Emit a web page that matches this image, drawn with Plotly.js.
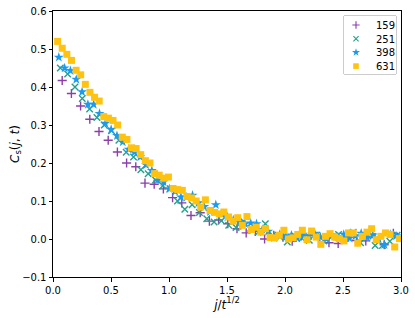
<!DOCTYPE html>
<html>
<head>
<meta charset="utf-8">
<script src="https://cdn.plot.ly/plotly-3.0.1.min.js"></script>
<style>html,body{margin:0;padding:0;background:#fff}#plot{width:415px;height:318px}</style>
</head>
<body>
<div id="plot"></div>
<script>
// Times t for each series (legend labels); x = j / sqrt(t), j = 1, 2, ...
const seriesNames = ["159", "251", "398", "631"];
const seriesTimes = [159, 251, 398, 631];

// C_s(j, t) values, j = 1, 2, 3, ...
const cs159 = [0.417, 0.383, 0.350, 0.315, 0.283, 0.260, 0.229, 0.200, 0.190, 0.147,
  0.144, 0.132, 0.109, 0.095, 0.062, 0.069, 0.047, 0.050, 0.040, 0.027,
  0.016, 0.020, 0.000, 0.010, 0.005, -0.006, 0.008, 0.010, 0.002, -0.010,
  -0.012, 0.005, -0.004, -0.005, 0.004, -0.015, 0.015];

const cs251 = [0.450, 0.434, 0.400, 0.370, 0.342, 0.320, 0.300, 0.285, 0.260, 0.228,
  0.216, 0.182, 0.172, 0.155, 0.140, 0.132, 0.100, 0.078, 0.090, 0.070,
  0.053, 0.045, 0.048, 0.036, 0.030, 0.047, 0.028, 0.018, 0.040, 0.010,
  0.005, -0.008, 0.008, 0.002, -0.003, 0.010, -0.005, 0.005, 0.012, 0.002,
  0.018, -0.010, 0.008, -0.017, -0.017, -0.006, 0.010];

const cs398 = [0.478, 0.450, 0.443, 0.420, 0.387, 0.354, 0.354, 0.330, 0.304, 0.288,
  0.272, 0.255, 0.236, 0.228, 0.216, 0.195, 0.180, 0.155, 0.150, 0.132,
  0.125, 0.110, 0.110, 0.115, 0.095, 0.085, 0.072, 0.090, 0.065, 0.058,
  0.050, 0.045, 0.040, 0.042, 0.040, 0.025, 0.020, 0.003, 0.012, 0.008,
  0.010, 0.002, 0.012, 0.008, 0.015, 0.005, 0.000, 0.010, 0.006, 0.012,
  0.002, 0.008, 0.015, 0.004, 0.010, 0.000, -0.015, 0.012, 0.008];

const cs631 = [0.520, 0.502, 0.486, 0.470, 0.444, 0.432, 0.407, 0.386, 0.373, 0.363,
  0.322, 0.318, 0.312, 0.300, 0.268, 0.262, 0.240, 0.238, 0.222, 0.206,
  0.200, 0.172, 0.168, 0.160, 0.163, 0.133, 0.130, 0.128, 0.112, 0.108,
  0.100, 0.084, 0.103, 0.075, 0.070, 0.066, 0.071, 0.058, 0.047, 0.056,
  0.036, 0.059, 0.025, 0.031, 0.018, 0.027, 0.004, 0.003, 0.010, 0.023,
  0.000, 0.003, 0.012, 0.023, -0.002, 0.021, 0.005, -0.014, 0.007, 0.014,
  0.005, 0.001, -0.005, 0.016, 0.016, -0.011, 0.007, 0.018, 0.027, -0.002,
  0.007, 0.016, 0.012, -0.021, 0.001];

const seriesValues = [cs159, cs251, cs398, cs631];

const xTickVals = [0, 0.5, 1.0, 1.5, 2.0, 2.5, 3.0];
const xTickText = ["0.0", "0.5", "1.0", "1.5", "2.0", "2.5", "3.0"];
const yTickVals = [-0.1, 0, 0.1, 0.2, 0.3, 0.4, 0.5, 0.6];
const yTickText = ["\u22120.1", "0.0", "0.1", "0.2", "0.3", "0.4", "0.5", "0.6"];

const styles = [
  {color: "#8b3fa8", symbol: "cross-thin", size: 6.5, line: {width: 1.4, color: "#8b3fa8"}},
  {color: "#26a08c", symbol: "x-thin", size: 6.5, line: {width: 1.4, color: "#26a08c"}},
  {color: "#1a9bf0", symbol: "star", size: 7.5, line: {width: 0}},
  {color: "#ffc20e", symbol: "square", size: 7, line: {width: 0}}
];

const traces = seriesValues.map((vals, i) => {
  const s = Math.sqrt(seriesTimes[i]);
  return {
    type: "scatter",
    mode: "markers",
    name: seriesNames[i],
    x: vals.map((_, k) => (k + 1) / s),
    y: vals,
    marker: styles[i],
    cliponaxis: true
  };
});

const axisCommon = {
  showgrid: false,
  zeroline: false,
  showline: true,
  linecolor: "#000",
  linewidth: 1,
  mirror: true,
  ticks: "outside",
  ticklen: 3.5,
  tickwidth: 1,
  tickcolor: "#000",
  tickfont: {family: "DejaVu Sans", size: 10, color: "#000"}
};

const layout = {
  width: 415,
  height: 318,
  margin: {l: 53, r: 14, t: 11, b: 41},
  paper_bgcolor: "#fff",
  plot_bgcolor: "#fff",
  font: {family: "DejaVu Sans", color: "#000"},
  xaxis: Object.assign({}, axisCommon, {
    range: [0, 3.0],
    tickvals: xTickVals,
    ticktext: xTickText,
    title: {text: "<i>j</i>/<i>t</i><sup>1/2</sup>", font: {size: 12, family: "DejaVu Sans"}, standoff: 3}
  }),
  yaxis: Object.assign({}, axisCommon, {
    range: [-0.1, 0.6],
    tickvals: yTickVals,
    ticktext: yTickText,
    title: {text: "<i>C</i><sub>s</sub>(<i>j</i>, <i>t</i>)", font: {size: 12, family: "DejaVu Sans"}, standoff: 0}
  }),
  legend: {
    x: 0.986,
    y: 0.984,
    xanchor: "right",
    yanchor: "top",
    bgcolor: "rgba(255,255,255,0.8)",
    bordercolor: "#cccccc",
    borderwidth: 1,
    font: {family: "DejaVu Sans", size: 10, color: "#000"},
    itemwidth: 30,
    tracegroupgap: 0
  },
  showlegend: true
};

Plotly.newPlot("plot", traces, layout, {staticPlot: true, displayModeBar: false}).then(gd => {
  // Compact the legend to match the reference's tighter row spacing.
  const leg = gd.querySelector(".legend");
  if (!leg) return;
  const rowGap = 13.7, firstRow = 10, leftShift = -7;
  leg.querySelectorAll(".traces").forEach((g, i) => {
    g.setAttribute("transform", "translate(" + leftShift + "," + (firstRow + i * rowGap) + ")");
    g.querySelectorAll(".legendpoints path").forEach(p => {
      const t = p.getAttribute("transform") || "";
      p.setAttribute("transform", t + " scale(0.8)");
    });
  });
  const bg = leg.querySelector("rect.bg");
  if (bg) {
    bg.setAttribute("width", 53);
    bg.setAttribute("height", 59);
    bg.setAttribute("rx", 2);
    bg.setAttribute("ry", 2);
  }
  leg.setAttribute("transform", "translate(343,15)");
});
</script>
</body>
</html>
